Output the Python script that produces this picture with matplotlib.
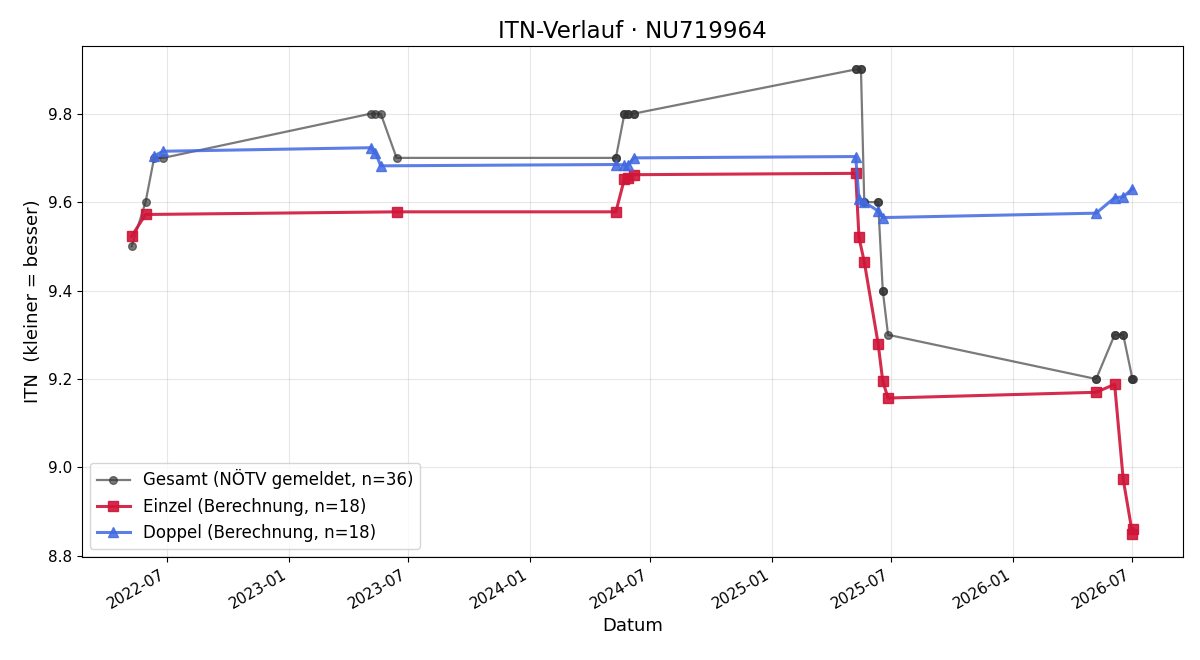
import matplotlib
matplotlib.use('Agg')
import matplotlib.pyplot as plt
import matplotlib.dates as mdates
import numpy as np
import pandas as pd

einzel_dates = ['2022-05-08', '2022-05-29', '2023-06-13', '2024-05-10', '2024-05-23',
                '2024-05-29', '2024-06-06', '2025-05-08', '2025-05-13', '2025-05-21',
                '2025-06-11', '2025-06-18', '2025-06-26', '2026-05-07', '2026-06-04',
                '2026-06-17', '2026-07-01', '2026-07-02']
einzel_itn = [9.523, 9.572, 9.578, 9.578, 9.653, 9.655, 9.662, 9.665, 9.520, 9.465,
              9.280, 9.195, 9.157, 9.170, 9.188, 8.973, 8.850, 8.862]

doppel_dates = ['2022-06-11', '2022-06-25', '2023-05-05', '2023-05-12', '2023-05-20',
                '2024-05-10', '2024-05-23', '2024-05-29', '2024-06-06', '2025-05-08',
                '2025-05-13', '2025-05-21', '2025-06-11', '2025-06-18', '2026-05-07',
                '2026-06-04', '2026-06-17', '2026-07-01']
doppel_itn = [9.705, 9.715, 9.723, 9.712, 9.682, 9.685, 9.684, 9.685, 9.700, 9.703,
              9.607, 9.600, 9.580, 9.565, 9.575, 9.610, 9.612, 9.630]

gesamt_dates = ['2022-05-08', '2022-05-29', '2022-06-11', '2022-06-25', '2023-05-05',
                '2023-05-12', '2023-05-20', '2023-06-13', '2024-05-10', '2024-05-10',
                '2024-05-23', '2024-05-23', '2024-05-29', '2024-05-29', '2024-06-06',
                '2024-06-06', '2025-05-08', '2025-05-08', '2025-05-16', '2025-05-16',
                '2025-05-21', '2025-05-21', '2025-06-11', '2025-06-11', '2025-06-18',
                '2025-06-18', '2025-06-26', '2026-05-07', '2026-05-07', '2026-06-04',
                '2026-06-04', '2026-06-17', '2026-06-17', '2026-07-01', '2026-07-01',
                '2026-07-02']
gesamt_itn = [9.5, 9.6, 9.7, 9.7, 9.8, 9.8, 9.8, 9.7, 9.7, 9.7,
              9.8, 9.8, 9.8, 9.8, 9.8, 9.8, 9.9, 9.9, 9.9, 9.9,
              9.6, 9.6, 9.6, 9.6, 9.4, 9.4, 9.3, 9.2, 9.2, 9.3,
              9.3, 9.3, 9.3, 9.2, 9.2, 9.2]

fig, ax = plt.subplots(figsize=(12, 6.6), dpi=100)

ax.plot(pd.to_datetime(gesamt_dates), gesamt_itn, marker='o', color='#333333',
        alpha=0.65, linewidth=1.6, markersize=5.5,
        label='Gesamt (NÖTV gemeldet, n=%d)' % len(gesamt_itn))
ax.plot(pd.to_datetime(einzel_dates), einzel_itn, marker='s', color='#d01538',
        alpha=0.9, linewidth=2.2, markersize=7,
        label='Einzel (Berechnung, n=%d)' % len(einzel_itn))
ax.plot(pd.to_datetime(doppel_dates), doppel_itn, marker='^', color='#4169e1',
        alpha=0.85, linewidth=2.2, markersize=7,
        label='Doppel (Berechnung, n=%d)' % len(doppel_itn))

ax.set_title('ITN-Verlauf · NU719964', fontsize=16.5)
ax.set_xlabel('Datum', fontsize=13)
ax.set_ylabel('ITN  (kleiner = besser)', fontsize=13)
ax.tick_params(labelsize=11)
ax.grid(True, alpha=0.3)
ax.xaxis.set_major_formatter(mdates.DateFormatter('%Y-%m'))
ax.legend(loc='lower left', fontsize=12)
fig.autofmt_xdate()
fig.subplots_adjust(left=0.068, right=0.986, top=0.930, bottom=0.156)
plt.savefig('out.png')
